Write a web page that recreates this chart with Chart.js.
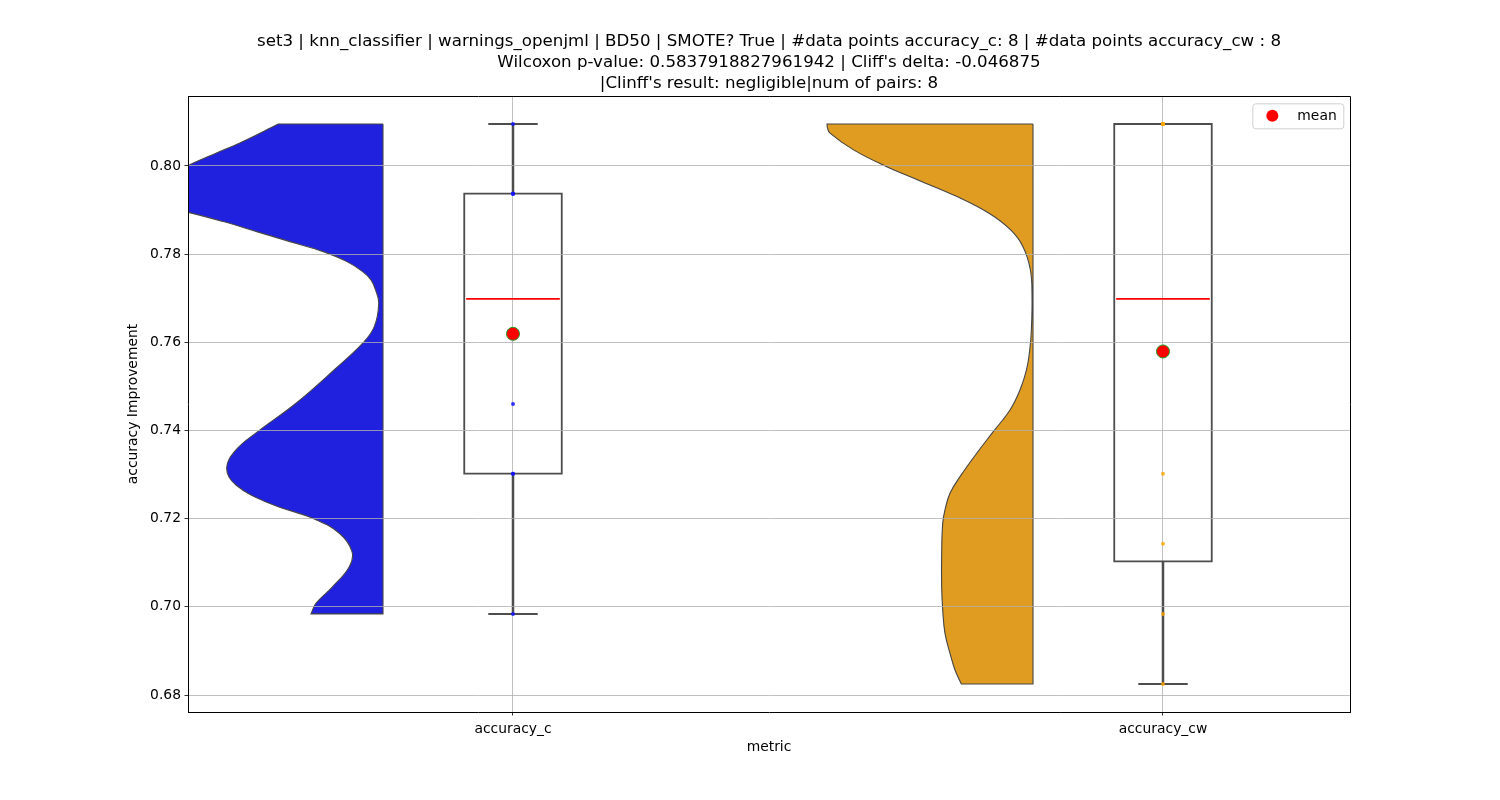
<!DOCTYPE html>
<html>
<head>
<meta charset="utf-8">
<script src="https://cdn.jsdelivr.net/npm/chart.js@4.4.1/dist/chart.umd.min.js"></script>
<style>
html,body{margin:0;padding:0;background:#fff;}
canvas{display:block;}
</style>
</head>
<body>
<canvas id="c" width="1500" height="800"></canvas>
<script>
// ---------- data ----------
const categories = ['accuracy_c', 'accuracy_cw'];
const accuracyC  = [0.6984, 0.7302, 0.7302, 0.7460, 0.7937, 0.7937, 0.7937, 0.8095];
const accuracyCW = [0.6825, 0.6984, 0.7143, 0.7302, 0.8095, 0.8095, 0.8095, 0.8095];
const yTicks = [0.68, 0.70, 0.72, 0.74, 0.76, 0.78, 0.80];
const titleLines = [
  "set3 | knn_classifier | warnings_openjml | BD50 | SMOTE? True | #data points accuracy_c: 8 | #data points accuracy_cw : 8",
  "Wilcoxon p-value: 0.5837918827961942 | Cliff's delta: -0.046875",
  "|Clinff's result: negligible|num of pairs: 8"
];
const meanLabel = 'mean';

// half-violin density profiles (width in category units) read at value levels
const violinCLevels = [0.8095, 0.80515, 0.80288, 0.80023, 0.79796, 0.79569, 0.79342, 0.79161, 0.79025, 0.78941,
  0.78737, 0.78510, 0.78283, 0.78056, 0.77829, 0.77602, 0.77414, 0.77187, 0.76885, 0.76355, 0.75978, 0.75411, 0.74617,
  0.73973, 0.73558, 0.73143, 0.72764, 0.72349, 0.72008, 0.71668, 0.71251, 0.70911, 0.70457, 0.70080, 0.6984];
const violinCDensity = [0.1611, 0.2211, 0.2569, 0.2980, 0.3308, 0.3585, 0.3738, 0.3615, 0.3277, 0.2980,
  0.2457, 0.1943, 0.1431, 0.0918, 0.0554, 0.0312, 0.0185, 0.0115, 0.0066, 0.0134, 0.0312, 0.0723, 0.1338,
  0.1928, 0.2262, 0.2405, 0.2262, 0.1749, 0.1082, 0.0672, 0.0477, 0.0518, 0.0774, 0.1031, 0.1108];
const violinCWLevels = [0.8095, 0.80862, 0.80742, 0.80363, 0.79993, 0.79682, 0.79304, 0.78927, 0.78548, 0.78169, 0.77641,
  0.77035, 0.76280, 0.75826, 0.75372, 0.74919, 0.74465, 0.73973, 0.73483, 0.72952, 0.72575, 0.72197,
  0.71895, 0.71214, 0.70457, 0.69928, 0.69400, 0.68946, 0.68567, 0.6825];
const violinCWDensity = [0.3169, 0.3162, 0.3123, 0.2760, 0.2266, 0.1771, 0.1169, 0.0677, 0.0343, 0.0154, 0.0040,
  0.0015, 0.0025, 0.0050, 0.0100, 0.0200, 0.0354, 0.0611, 0.0866, 0.1123, 0.1277, 0.1354,
  0.1389, 0.1405, 0.1405, 0.1389, 0.1354, 0.1277, 0.1200, 0.1102];

// ---------- styling constants ----------
const FONT = "'DejaVu Sans', sans-serif";
const BOX_HALF = 0.075, CAP_HALF = 0.038, VIOLIN_OFFSET = 0.2;
const LINE_GRAY = '#4d4d4d';

// ---------- helpers ----------
function quantile(s, q) {
  const pos = (s.length - 1) * q, lo = Math.floor(pos), hi = Math.ceil(pos);
  return s[lo] + (s[hi] - s[lo]) * (pos - lo);
}
function boxStats(arr) {
  const s = [...arr].sort((a, b) => a - b);
  const q1 = quantile(s, 0.25), med = quantile(s, 0.5), q3 = quantile(s, 0.75);
  const iqr = q3 - q1;
  const lo = Math.min(...s.filter(v => v >= q1 - 1.5 * iqr));
  const hi = Math.max(...s.filter(v => v <= q3 + 1.5 * iqr));
  const mean = s.reduce((a, b) => a + b, 0) / s.length;
  return {q1, med, q3, lo, hi, mean};
}
function seg(points, color, width, order) {
  return {type: 'line', data: points, borderColor: color, borderWidth: width, pointRadius: 0,
    pointHoverRadius: 0, fill: false, tension: 0, order, clip: 0, borderCapStyle: 'butt'};
}
function violinDataset(cx, levels, dens, color) {
  const xr = cx - VIOLIN_OFFSET;
  const n = levels.length;
  const pts = [];
  pts.push({x: xr, y: levels[0]}, {x: xr, y: levels[0]});
  pts.push({x: xr - dens[0], y: levels[0]});
  for (let i = 0; i < n; i++) pts.push({x: xr - dens[i], y: levels[i]});
  pts.push({x: xr - dens[n - 1], y: levels[n - 1]});
  pts.push({x: xr, y: levels[n - 1]}, {x: xr, y: levels[n - 1]});
  pts.push({x: xr, y: levels[0]});
  return {type: 'line', data: pts, borderColor: '#454545', borderWidth: 1.1, backgroundColor: color,
    fill: 'shape', tension: 0.4, pointRadius: 0, pointHoverRadius: 0, order: 20, clip: 0};
}

const groups = [
  {cx: 0, values: accuracyC, levels: violinCLevels, dens: violinCDensity, violin: '#2020df', dot: 'rgba(20,20,255,0.85)'},
  {cx: 1, values: accuracyCW, levels: violinCWLevels, dens: violinCWDensity, violin: '#df9c20', dot: 'rgba(255,165,0,0.8)'}
];

const datasets = [];
const means = [];
groups.forEach(g => {
  const st = boxStats(g.values);
  means.push({x: g.cx, y: st.mean});
  datasets.push(violinDataset(g.cx, g.levels, g.dens, g.violin));
  const c = g.cx;
  const box = seg([{x: c - BOX_HALF, y: st.q1}, {x: c + BOX_HALF, y: st.q1}, {x: c + BOX_HALF, y: st.q3},
                   {x: c - BOX_HALF, y: st.q3}, {x: c - BOX_HALF, y: st.q1}], LINE_GRAY, 1.8, 6);
  box.borderCapStyle = 'square'; box.borderJoinStyle = 'miter';
  datasets.push(box);
  datasets.push(seg([{x: c, y: st.q1}, {x: c, y: st.lo}], LINE_GRAY, 2.5, 5));
  datasets.push(seg([{x: c, y: st.q3}, {x: c, y: st.hi}], LINE_GRAY, 2.5, 5));
  datasets.push(seg([{x: c - CAP_HALF, y: st.lo}, {x: c + CAP_HALF, y: st.lo}], LINE_GRAY, 2, 5));
  datasets.push(seg([{x: c - CAP_HALF, y: st.hi}, {x: c + CAP_HALF, y: st.hi}], LINE_GRAY, 2, 5));
  datasets.push(seg([{x: c - BOX_HALF + 0.003, y: st.med}, {x: c + BOX_HALF - 0.003, y: st.med}], '#ff0000', 1.8, 4));
  datasets.push({type: 'scatter', data: g.values.map(v => ({x: c, y: v})), backgroundColor: g.dot,
    borderWidth: 0, pointRadius: 2, order: 2});
});
datasets.push({type: 'scatter', label: meanLabel, data: means, backgroundColor: '#ff0000',
  borderColor: '#1f9a1f', borderWidth: 1, pointRadius: 6.5, order: 0, inLegend: true});

// ---------- plugin: top/right spines and legend frame ----------
const framePlugin = {
  id: 'frameAndLegend',
  afterDraw(chart) {
    const {ctx, chartArea: a} = chart;
    ctx.save();
    ctx.strokeStyle = '#000';
    ctx.lineWidth = 1;
    ctx.beginPath();
    ctx.moveTo(a.left, a.top + 0.5);
    ctx.lineTo(a.right + 0.5, a.top + 0.5);
    ctx.lineTo(a.right + 0.5, a.bottom + 0.5);
    ctx.stroke();

    const ds = chart.data.datasets.find(d => d.inLegend);
    if (ds) {
      ctx.font = '13.89px ' + FONT;
      const tw = ctx.measureText(ds.label).width;
      const h = 25, w = 20 + 25 + tw + 6.6;
      const right = a.right - 6.7, top = a.top + 7.3, left = right - w;
      ctx.beginPath();
      ctx.roundRect(left + 0.5, top + 0.5, w, h, 3);
      ctx.fillStyle = 'rgba(255,255,255,0.8)';
      ctx.fill();
      ctx.strokeStyle = '#d0d0d0';
      ctx.stroke();
      ctx.beginPath();
      ctx.arc(left + 20, top + h / 2, 6, 0, Math.PI * 2);
      ctx.fillStyle = ds.backgroundColor;
      ctx.fill();
      ctx.fillStyle = '#000';
      ctx.textBaseline = 'middle';
      ctx.textAlign = 'left';
      ctx.fillText(ds.label, left + 45, top + h / 2 + 0.5);
    }
    ctx.restore();
  }
};

Chart.defaults.font.family = FONT;
Chart.defaults.color = '#000';

new Chart(document.getElementById('c'), {
  type: 'scatter',
  data: {datasets},
  options: {
    responsive: false,
    devicePixelRatio: 1,
    animation: false,
    events: [],
    layout: {padding: {left: 0, right: 150, top: 0, bottom: 0}},
    plugins: {
      legend: {display: false},
      tooltip: {enabled: false},
      title: {
        display: true,
        fullSize: false,
        text: titleLines,
        color: '#000',
        font: {family: FONT, size: 16.67, weight: 'normal', lineHeight: 1.26},
        padding: {top: 31.5, bottom: 1.5}
      }
    },
    scales: {
      x: {
        type: 'linear',
        min: -0.5,
        max: 1.2877,
        afterBuildTicks: axis => { axis.ticks = categories.map((_, i) => ({value: i})); },
        afterFit: axis => { axis.height = 88; },
        ticks: {
          callback: v => categories[v],
          font: {size: 13.89},
          padding: 5.5,
          maxRotation: 0,
          color: '#000'
        },
        grid: {color: '#b0b0b0', lineWidth: 0.8, tickColor: '#000', tickLength: 3.5, tickWidth: 0.8},
        border: {display: true, color: '#000', width: 1, z: 2},
        title: {display: true, text: 'metric', font: {size: 13.89}, padding: {top: 0, bottom: 44}, color: '#000'}
      },
      y: {
        type: 'linear',
        min: 0.67615,
        max: 0.81585,
        afterBuildTicks: axis => { axis.ticks = yTicks.map(v => ({value: v})); },
        afterFit: axis => { axis.width = 188; },
        ticks: {
          callback: v => v.toFixed(2),
          font: {size: 13.89},
          padding: 3.5,
          color: '#000'
        },
        grid: {z: 1, color: '#b0b0b0', lineWidth: 0.8, tickColor: '#000', tickLength: 3.5, tickWidth: 0.8},
        border: {display: true, color: '#000', width: 1, z: 2},
        title: {display: true, text: 'accuracy Improvement', font: {size: 13.89}, padding: {top: 124.67, bottom: 0}, color: '#000'}
      }
    }
  },
  plugins: [framePlugin]
});
</script>
</body>
</html>
